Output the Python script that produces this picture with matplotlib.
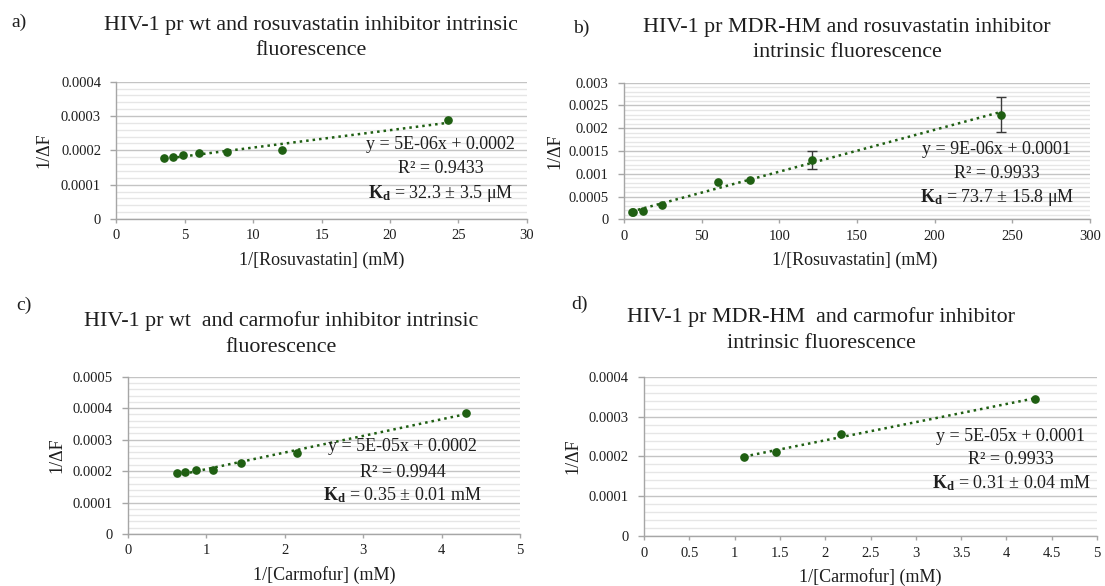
import matplotlib

matplotlib.use("Agg")

import matplotlib.pyplot as plt
import numpy as np
from matplotlib.ticker import MultipleLocator, FuncFormatter

# a) HIV-1 pr wt + rosuvastatin
a_x = [3.5, 4.1, 4.85, 6.06, 8.08, 12.12, 24.24]
a_y = [0.000177, 0.000182, 0.000187, 0.000192, 0.000195, 0.000200, 0.000288]

# b) HIV-1 pr MDR-HM + rosuvastatin
b_x = [4.85, 6.06, 12.12, 24.24, 60.6, 80.8, 121.2, 242.4]
b_y = [0.000150, 0.000155, 0.000190, 0.000310, 0.000814, 0.000873, 0.001300, 0.002300]
b_err = [0, 0, 0, 0, 0, 0, 0.000200, 0.000385]

# c) HIV-1 pr wt + carmofur
c_x = [0.63, 0.73, 0.87, 1.085, 1.446, 2.156, 4.31]
c_y = [0.000193, 0.000196, 0.000202, 0.000205, 0.000225, 0.000259, 0.000386]

# d) HIV-1 pr MDR-HM + carmofur
d_x = [1.106, 1.452, 2.169, 4.32]
d_y = [0.000198, 0.000212, 0.000256, 0.000344]

titles = [
    "HIV-1 pr wt and rosuvastatin inhibitor intrinsic\nfluorescence",
    "HIV-1 pr MDR-HM and rosuvastatin inhibitor\nintrinsic fluorescence",
    "HIV-1 pr wt  and carmofur inhibitor intrinsic\nfluorescence",
    "HIV-1 pr MDR-HM  and carmofur inhibitor\nintrinsic fluorescence",
]
equations = ["y = 5E-06x + 0.0002", "y = 9E-06x + 0.0001",
             "y = 5E-05x + 0.0002", "y = 5E-05x + 0.0001"]
r2_labels = ["R² = 0.9433", "R² = 0.9933", "R² = 0.9944", "R² = 0.9933"]
kd_labels = [r"$\mathbf{K_d}$ = 32.3 ± 3.5 μM", r"$\mathbf{K_d}$ = 73.7 ± 15.8 μM",
             r"$\mathbf{K_d}$ = 0.35 ± 0.01 mM", r"$\mathbf{K_d}$ = 0.31 ± 0.04 mM"]
xlabels = ["1/[Rosuvastatin] (mM)", "1/[Rosuvastatin] (mM)",
           "1/[Carmofur] (mM)", "1/[Carmofur] (mM)"]
panel_tags = ["a)", "b)", "c)", "d)"]

plt.rcParams["font.family"] = ["Liberation Serif", "DejaVu Serif"]
plt.rcParams["mathtext.fontset"] = "custom"
plt.rcParams["mathtext.rm"] = "Liberation Serif"
plt.rcParams["mathtext.bf"] = "Liberation Serif:bold"

W, H = 1105, 586
GREEN = "#1f5f12"
AXIS_GRAY = "#a6a6a6"
TEXT = "#1e1e1e"


def box(x0, x1, y0, y1):
    return [x0 / W, 1 - y1 / H, (x1 - x0) / W, (y1 - y0) / H]


fig = plt.figure(figsize=(W / 100, H / 100), dpi=100)

layout = [
    dict(rect=box(116.4, 526.9, 81.7, 219.0), xlim=(0, 30), xstep=5, ylim=(0, 0.0004), ystep=0.0001,
         title_xy=(311, 38), tag_xy=(19, 22), text_x=0.79, text_y=(0.546, 0.371, 0.189),
         ylab=(-0.177, 0.5), xlab=(0.5, -0.30)),
    dict(rect=box(624.0, 1090.0, 82.7, 219.3), xlim=(0, 300), xstep=50, ylim=(0, 0.003), ystep=0.0005,
         title_xy=(847, 40), tag_xy=(581, 28), text_x=0.80, text_y=(0.514, 0.335, 0.159),
         ylab=(-0.148, 0.5), xlab=(0.496, -0.298)),
    dict(rect=box(127.7, 520.2, 376.7, 534.0), xlim=(0, 5), xstep=1, ylim=(0, 0.0005), ystep=0.0001,
         title_xy=(281, 334), tag_xy=(24, 305), text_x=0.70, text_y=(0.558, 0.392, 0.25),
         ylab=(-0.181, 0.5), xlab=(0.501, -0.264)),
    dict(rect=box(644.0, 1097.0, 376.7, 536.3), xlim=(0, 5), xstep=0.5, ylim=(0, 0.0004), ystep=0.0001,
         title_xy=(821, 330), tag_xy=(580, 304), text_x=0.81, text_y=(0.628, 0.481, 0.331),
         ylab=(-0.157, 0.5), xlab=(0.50, -0.256)),
]

series = [(a_x, a_y, None), (b_x, b_y, b_err), (c_x, c_y, None), (d_x, d_y, None)]

for i, (cfg, (xs, ys, err)) in enumerate(zip(layout, series)):
    ax = fig.add_axes(cfg["rect"])
    xs = np.asarray(xs)
    ys = np.asarray(ys)

    # linear trendline across the data range, as in the spreadsheet
    slope, icpt = np.polyfit(xs, ys, 1)
    tx = np.array([xs.min(), xs.max()])
    ax.plot(tx, slope * tx + icpt, linestyle=(0, (1, 1.6)), color=GREEN, linewidth=1.8, zorder=3)

    if err is not None:
        err = np.asarray(err)
        sel = err > 0
        ax.errorbar(xs[sel], ys[sel], yerr=err[sel], fmt="none", ecolor="#3a3a3a",
                    elinewidth=1.0, capsize=3.5, capthick=1.0, zorder=4)
    ax.plot(xs, ys, "o", color=GREEN, markersize=5.2, zorder=5)

    ax.set_xlim(*cfg["xlim"])
    ax.set_ylim(*cfg["ylim"])
    ax.xaxis.set_major_locator(MultipleLocator(cfg["xstep"]))
    ax.yaxis.set_major_locator(MultipleLocator(cfg["ystep"]))
    ax.yaxis.set_minor_locator(MultipleLocator(cfg["ystep"] / 5))
    fmt = FuncFormatter(lambda v, p: f"{v:g}")
    ax.xaxis.set_major_formatter(fmt)
    ax.yaxis.set_major_formatter(fmt)

    ax.grid(axis="y", which="major", color="#c4c4c4", linewidth=1.0)
    ax.grid(axis="y", which="minor", color="#e6e6e6", linewidth=1.0)
    ax.set_axisbelow(True)
    for side in ("top", "right"):
        ax.spines[side].set_visible(False)
    for side in ("left", "bottom"):
        ax.spines[side].set_color(AXIS_GRAY)
        ax.spines[side].set_linewidth(1.0)

    ax.tick_params(axis="y", which="major", direction="out", length=4, width=1,
                   color=AXIS_GRAY, pad=7, labelsize=10.5, labelcolor=TEXT)
    ax.tick_params(axis="x", which="major", direction="out", length=3, width=1,
                   color=AXIS_GRAY, pad=4.5, labelsize=10.5, labelcolor=TEXT)
    ax.tick_params(which="minor", length=0)

    ax.set_xlabel(xlabels[i], fontsize=13, color=TEXT)
    ax.xaxis.set_label_coords(*cfg["xlab"])
    ax.xaxis.label.set_va("center")
    ax.set_ylabel("1/ΔF", fontsize=13, color=TEXT)
    ax.yaxis.set_label_coords(*cfg["ylab"])
    ax.yaxis.label.set_va("center")

    tx_, (y1, y2, y3) = cfg["text_x"], cfg["text_y"]
    ax.text(tx_, y1, equations[i], transform=ax.transAxes, ha="center", va="center",
            fontsize=13, color=TEXT, zorder=6)
    ax.text(tx_, y2, r2_labels[i], transform=ax.transAxes, ha="center", va="center",
            fontsize=13, color=TEXT, zorder=6)
    ax.text(tx_, y3, kd_labels[i], transform=ax.transAxes, ha="center", va="center",
            fontsize=13, color=TEXT, zorder=6)

    fig.text(cfg["title_xy"][0] / W, 1 - cfg["title_xy"][1] / H, titles[i],
             ha="center", va="center", fontsize=15.8, linespacing=1.48, color=TEXT)
    fig.text(cfg["tag_xy"][0] / W, 1 - cfg["tag_xy"][1] / H, panel_tags[i],
             ha="center", va="center", fontsize=14, color=TEXT)

fig.savefig("out.png", dpi=100)
plt.close(fig)
